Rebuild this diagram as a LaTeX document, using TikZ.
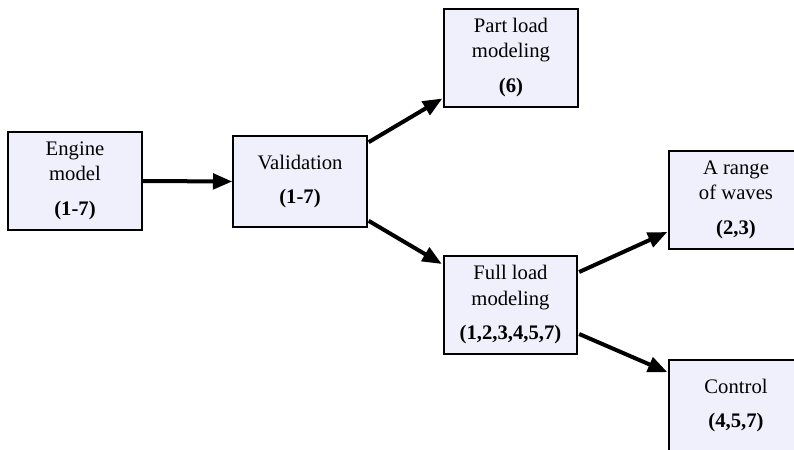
\documentclass[tikz,border=0pt]{standalone}
\usepackage{fontspec}
\setmainfont{Liberation Serif}
\usetikzlibrary{arrows.meta,calc}
\definecolor{boxfill}{RGB}{240,240,252}
\tikzset{
  stagebox/.style={draw=black, line width=1.5pt, fill=boxfill, rectangle,
    minimum width=100pt, align=center, inner sep=0pt,
    font=\fontsize{15.5}{19}\selectfont},
  tall/.style={minimum height=73.5pt},
  short/.style={minimum height=68pt},
  flow/.style={line width=3pt, -{Triangle[length=14.5pt,width=11.5pt]}}
}
\begin{document}
\begin{tikzpicture}[x=0.75pt,y=-0.75pt]
  \useasboundingbox (0,0) rectangle (794,450);

  % stages of the study
  \node[stagebox,tall]  (eng)  at (75,181)    {Engine\\model\\[7pt]\textbf{(1-7)}};
  \node[stagebox,short] (val)  at (300,181.5) {Validation\\[7pt]\textbf{(1-7)}};
  \node[stagebox,tall]  (part) at (511,57.5)  {Part load\\modeling\\[7pt]\textbf{(6)}};
  \node[stagebox,tall]  (full) at (510.5,305) {Full load\\modeling\\[7pt]\textbf{(1,2,3,4,5,7)}};
  \node[stagebox,tall]  (wave) at (736,200)   {A range\\of waves\\[7pt]\textbf{(2,3)}};
  \node[stagebox,short] (ctrl) at (736,405.5) {Control\\[7pt]\textbf{(4,5,7)}};

  % flow between stages
  \draw[flow] (eng.east) -- (val.west);
  \draw[flow] ($(val.north east)+(1,7)$) -- ($(part.south west)+(-1,-9)$);
  \draw[flow] ($(val.south east)+(1,-7)$) -- ($(full.north west)+(-1,9)$);
  \draw[flow] ($(full.north east)+(1,17)$) -- ($(wave.south west)+(-1,-18)$);
  \draw[flow] ($(full.south east)+(1,-21)$) -- ($(ctrl.north west)+(-1,13)$);
\end{tikzpicture}
\end{document}
